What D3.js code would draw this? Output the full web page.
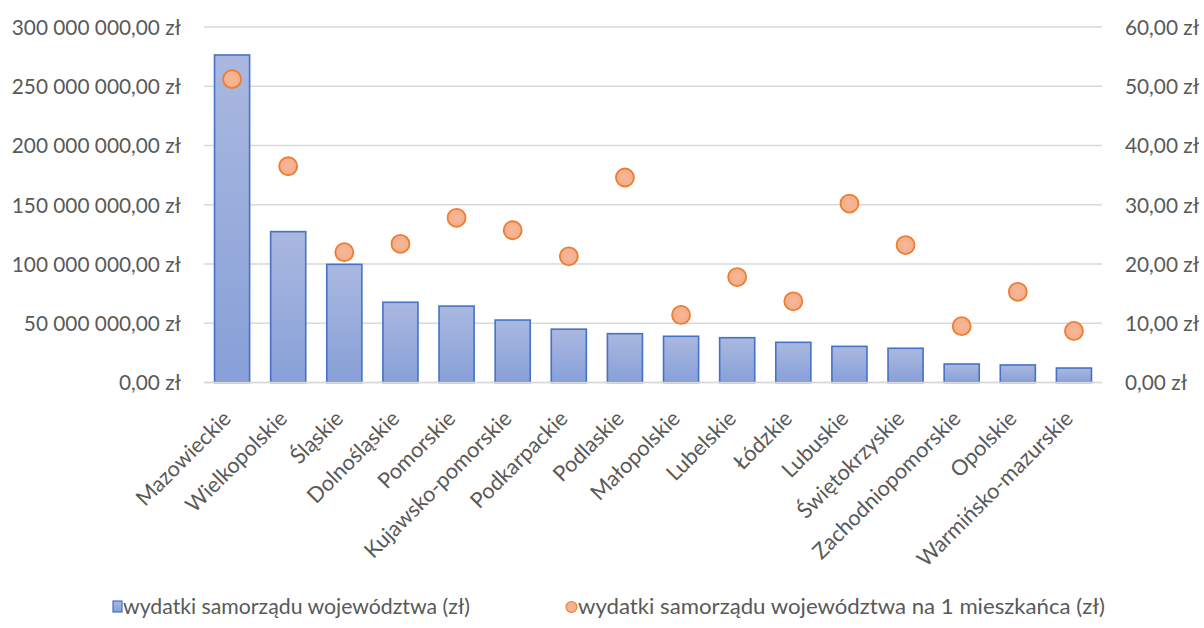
<!DOCTYPE html>
<html><head><meta charset="utf-8">
<script src="https://cdn.jsdelivr.net/npm/d3@7"></script>
<style>body{margin:0;background:#fff}svg{display:block}text{font-family:Lato,"Open Sans",sans-serif;fill:#595959}</style>
</head><body><svg id="c" width="1204" height="628"></svg>
<script>
const categories = ["Mazowieckie","Wielkopolskie","Śląskie","Dolnośląskie","Pomorskie","Kujawsko-pomorskie","Podkarpackie","Podlaskie","Małopolskie","Lubelskie","Łódzkie","Lubuskie","Świętokrzyskie","Zachodniopomorskie","Opolskie","Warmińsko-mazurskie"];
const totalSpend = [276.4e6,127.3e6,99.7e6,67.7e6,64.5e6,52.7e6,45.0e6,41.2e6,39.0e6,37.8e6,33.9e6,30.5e6,28.9e6,15.6e6,14.8e6,12.2e6];
const perCapita = [51.2,36.5,22.0,23.4,27.8,25.7,21.3,34.6,11.4,17.8,13.7,30.2,23.2,9.5,15.3,8.7];
const leftTicks = [0,50e6,100e6,150e6,200e6,250e6,300e6];
const rightTicks = [0,10,20,30,40,50,60];
const seriesNames = ["wydatki samorządu województwa (zł)","wydatki samorządu województwa na 1 mieszkańca (zł)"];

const FS = 20.8;
const svg = d3.select("#c");
const m = {l:204, r:1102, t:27, b:382.5};
const x = d3.scaleBand().domain(categories).range([m.l,m.r]).paddingInner(0.375).paddingOuter(0.1875);
const yL = d3.scaleLinear().domain([0,300e6]).range([m.b,m.t]);
const yR = d3.scaleLinear().domain([0,60]).range([m.b,m.t]);

const defs = svg.append("defs");
const bg = defs.append("linearGradient").attr("id","bg").attr("x1",0).attr("y1",0).attr("x2",0).attr("y2",1);
bg.append("stop").attr("offset","0%").attr("stop-color","#aab8e0");
bg.append("stop").attr("offset","100%").attr("stop-color","#87a0d8");
const dg = defs.append("radialGradient").attr("id","dg");
dg.append("stop").attr("offset","0%").attr("stop-color","#f6b799");
dg.append("stop").attr("offset","100%").attr("stop-color","#f4ae8a");

const fmtL = v => d3.format(",.2f")(v).replace(/,/g," ").replace(".",",") + " zł";
const fmtR = v => d3.format(".2f")(v).replace(".",",") + " zł";

svg.append("g").selectAll("line").data(leftTicks).join("line")
  .attr("x1",m.l).attr("x2",m.r).attr("y1",d=>yL(d)).attr("y2",d=>yL(d))
  .attr("stroke","#d9d9d9").attr("stroke-width",1.3);

const ga = svg.append("g").attr("transform",`translate(${m.l-23},0)`)
  .call(d3.axisLeft(yL).tickValues(leftTicks).tickFormat(fmtL).tickSize(0).tickPadding(0));
ga.select(".domain").remove();
ga.selectAll("text").attr("font-size",FS).style("font-family","Lato").attr("fill","#595959").attr("dy","0.35em");

const gr = svg.append("g").attr("transform",`translate(${m.r+23},0)`)
  .call(d3.axisRight(yR).tickValues(rightTicks).tickFormat(fmtR).tickSize(0).tickPadding(0));
gr.select(".domain").remove();
gr.selectAll("text").attr("font-size",FS).style("font-family","Lato").attr("fill","#595959").attr("dy","0.35em");

svg.append("g").selectAll("rect").data(categories).join("rect")
  .attr("x",d=>x(d)).attr("width",x.bandwidth())
  .attr("y",(d,i)=>yL(totalSpend[i])).attr("height",(d,i)=>yL(0)-yL(totalSpend[i]))
  .attr("fill","url(#bg)").attr("stroke","#4472c4").attr("stroke-width",1.6);

svg.append("line").attr("x1",m.l).attr("x2",m.r).attr("y1",yL(0)).attr("y2",yL(0)).attr("stroke","#d9d9d9").attr("stroke-width",1.3);

svg.append("g").selectAll("circle").data(categories).join("circle")
  .attr("cx",d=>x(d)+x.bandwidth()/2).attr("cy",(d,i)=>yR(perCapita[i])).attr("r",9)
  .attr("fill","url(#dg)").attr("stroke","#ed7d31").attr("stroke-width",1.8);

svg.append("g").selectAll("text").data(categories).join("text")
  .attr("transform",d=>`translate(${x(d)+x.bandwidth()/2-5},${m.b+32}) rotate(-45)`)
  .attr("text-anchor","end").attr("dy","0.35em").attr("font-size",21.6).text(d=>d);

const lg = svg.append("g");
lg.append("rect").attr("x",113).attr("y",601).attr("width",9).attr("height",11)
  .attr("fill","url(#bg)").attr("stroke","#4472c4").attr("stroke-width",1.2);
lg.append("text").attr("x",123).attr("y",607).attr("dy","0.35em").attr("font-size",21)
  .attr("textLength",347).attr("lengthAdjust","spacingAndGlyphs").text(seriesNames[0]);
lg.append("circle").attr("cx",571.5).attr("cy",607).attr("r",5.5)
  .attr("fill","url(#dg)").attr("stroke","#ed7d31").attr("stroke-width",1.2);
lg.append("text").attr("x",578).attr("y",607).attr("dy","0.35em").attr("font-size",21)
  .attr("textLength",527).attr("lengthAdjust","spacingAndGlyphs").text(seriesNames[1]);
</script></body></html>
